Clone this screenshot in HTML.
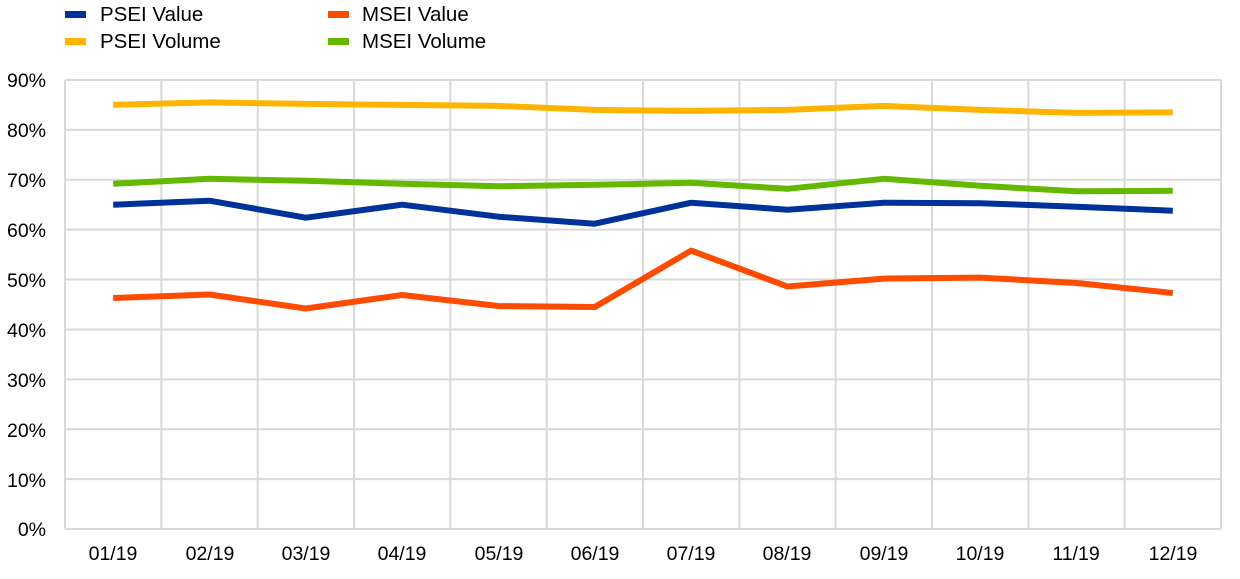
<!DOCTYPE html>
<html><head><meta charset="utf-8"><style>
body{margin:0;background:#fff}
svg text{font-family:"Liberation Sans",Arial,sans-serif;font-size:19.5px;fill:#000}
svg text.lg{font-size:20.5px}
</style></head><body>
<svg id="c" width="1240" height="574" xmlns="http://www.w3.org/2000/svg">
<g id="grid" stroke="#d9d9d9" stroke-width="2" fill="none"></g>
<g id="lines" fill="none" stroke-width="6" stroke-linejoin="round" stroke-linecap="butt"></g>
<rect x="65" y="11" width="21" height="7" fill="#003299"/>
<text class="lg" x="100" y="21">PSEI Value</text>
<rect x="65" y="38" width="21" height="7" fill="#ffb400"/>
<text class="lg" x="100" y="48">PSEI Volume</text>
<rect x="328" y="11" width="21" height="7" fill="#ff4b00"/>
<text class="lg" x="362" y="21">MSEI Value</text>
<rect x="328" y="38" width="21" height="7" fill="#65b800"/>
<text class="lg" x="362" y="48">MSEI Volume</text>
<g text-anchor="end">
<text x="46" y="87">90%</text><text x="46" y="137">80%</text><text x="46" y="187">70%</text>
<text x="46" y="237">60%</text><text x="46" y="287">50%</text><text x="46" y="337">40%</text>
<text x="46" y="387">30%</text><text x="46" y="437">20%</text><text x="46" y="487">10%</text>
<text x="46" y="536">0%</text>
</g>
<g text-anchor="middle">
<text x="113" y="560">01/19</text><text x="210" y="560">02/19</text><text x="306" y="560">03/19</text>
<text x="402" y="560">04/19</text><text x="499" y="560">05/19</text><text x="595" y="560">06/19</text>
<text x="691" y="560">07/19</text><text x="787" y="560">08/19</text><text x="884" y="560">09/19</text>
<text x="980" y="560">10/19</text><text x="1076" y="560">11/19</text><text x="1173" y="560">12/19</text>
</g>
</svg>
<script>
var L=65,R=1221,T=80,B=529,w=(R-L)/12,ns="http://www.w3.org/2000/svg";
var g=document.getElementById('grid'),d="";
for(var i=0;i<=9;i++){var y=T+(B-T)*i/9;d+="M"+L+" "+y+"H"+R;}
for(var i=0;i<=12;i++){var x=L+w*i;d+="M"+x+" "+T+"V"+B;}
var p=document.createElementNS(ns,'path');p.setAttribute('d',d);g.appendChild(p);
var s=[["#ffb400",[85,85.5,85.2,85,84.8,84,83.8,84,84.8,84,83.4,83.5]],
["#65b800",[69.2,70.2,69.8,69.2,68.7,69,69.4,68.2,70.2,68.8,67.7,67.8]],
["#003299",[65,65.8,62.4,65,62.6,61.2,65.4,64,65.4,65.3,64.6,63.8]],
["#ff4b00",[46.3,47,44.2,46.9,44.7,44.5,55.8,48.6,50.2,50.4,49.3,47.3]]];
var lg=document.getElementById('lines');
s.forEach(function(a){var pts=a[1].map(function(v,i){return (L+w*(i+0.5)).toFixed(1)+","+(B-(B-T)*v/90).toFixed(1)}).join(" ");
var pl=document.createElementNS(ns,'polyline');pl.setAttribute('points',pts);pl.setAttribute('stroke',a[0]);lg.appendChild(pl);});
</script>
</body></html>
